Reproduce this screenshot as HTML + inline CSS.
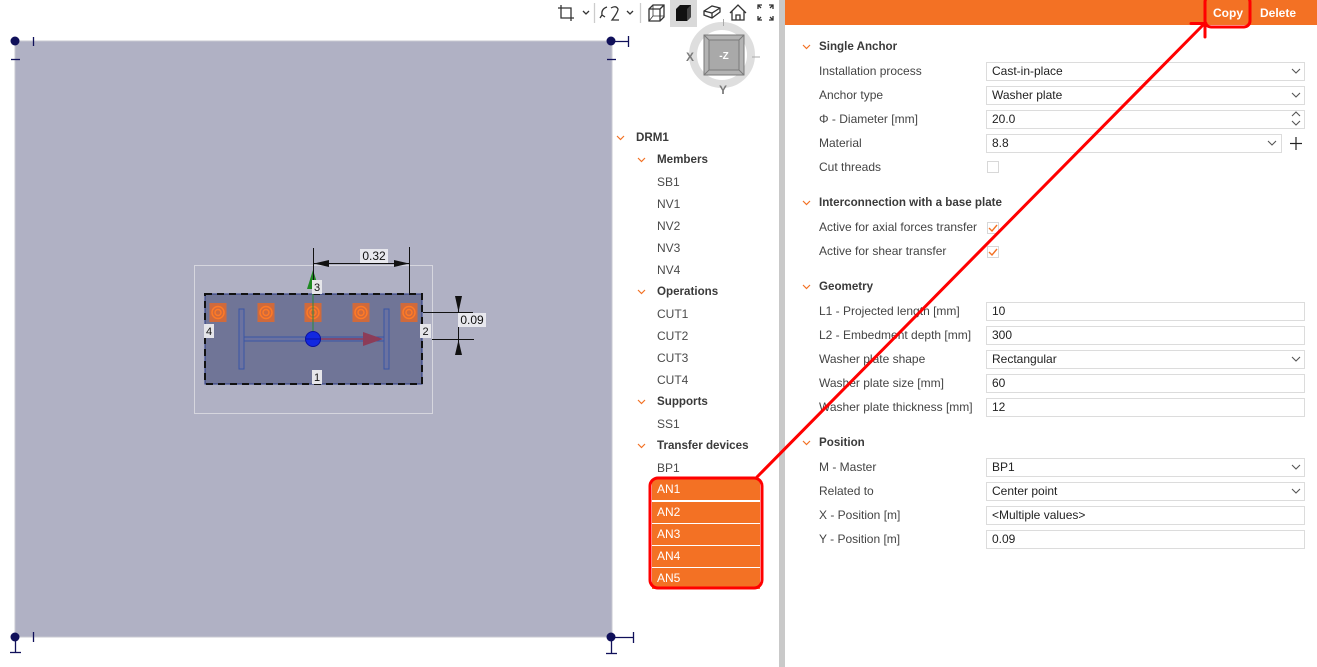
<!DOCTYPE html>
<html><head><meta charset="utf-8">
<style>
body{margin:0;width:1317px;height:667px;overflow:hidden;background:#fff;font-family:"Liberation Sans",sans-serif;position:relative}
.t{position:absolute;font-size:12px;color:#4a4a4a;line-height:22px;white-space:nowrap}
.b{font-weight:bold;color:#3a3a3a;font-size:11.6px}
.lbl{position:absolute;left:819px;font-size:12px;color:#444;line-height:19px;white-space:nowrap}
.hd{position:absolute;left:819px;font-size:11.6px;font-weight:bold;color:#3a3a3a;line-height:18px;white-space:nowrap}
.in{position:absolute;left:986px;width:319px;height:19px;box-sizing:border-box;border:1px solid #dcdcdc;font-size:12px;line-height:17px;padding-left:5px;color:#222;white-space:nowrap;background:#fff}
.sel{position:absolute;left:652px;width:108px;height:21px;background:#f37124;color:#fff;font-size:12px;line-height:21px;padding-left:5px;box-sizing:border-box}
.cb{position:absolute;left:987px;width:12px;height:12px;box-sizing:border-box;border:1px solid #d8d8d8;background:#fff}
</style></head>
<body>

<div style="position:absolute;left:779px;top:0;width:6px;height:667px;background:#c9c9c9"></div>
<div style="position:absolute;left:785px;top:0;width:532px;height:25px;background:#f37124"></div>
<div style="position:absolute;left:1213px;top:5px;font-size:12px;font-weight:bold;color:#fff;line-height:16px">Copy</div>
<div style="position:absolute;left:1260px;top:5px;font-size:12px;font-weight:bold;color:#fff;line-height:16px">Delete</div>

<svg width="1317" height="667" style="position:absolute;left:0;top:0">
  <rect x="15" y="41" width="597" height="596" fill="#b0b1c4" stroke="#c9c9d2" stroke-width="1"/>
  <rect x="194.5" y="265.5" width="238" height="148" fill="none" stroke="#d6d6de" stroke-width="1"/>
  <rect x="205" y="294" width="217" height="90" fill="#707597" stroke="#2c3c84" stroke-width="1"/>
  <rect x="205" y="294" width="217" height="90" fill="none" stroke="#111" stroke-width="2" stroke-dasharray="7 5"/>
  <g>
    <rect x="209.5" y="303" width="17" height="19" fill="#cf6a3c"/>
    <circle cx="218" cy="312.5" r="6" fill="none" stroke="#ff7a26" stroke-width="1.5"/><circle cx="218" cy="312.5" r="3" fill="none" stroke="#ff7a26" stroke-width="1.5"/>
    <rect x="257.5" y="303" width="17" height="19" fill="#cf6a3c"/>
    <circle cx="266" cy="312.5" r="6" fill="none" stroke="#ff7a26" stroke-width="1.5"/><circle cx="266" cy="312.5" r="3" fill="none" stroke="#ff7a26" stroke-width="1.5"/>
    <rect x="304.5" y="303" width="17" height="19" fill="#cf6a3c"/>
    <circle cx="313" cy="312.5" r="6" fill="none" stroke="#ff7a26" stroke-width="1.5"/><circle cx="313" cy="312.5" r="3" fill="none" stroke="#ff7a26" stroke-width="1.5"/>
    <rect x="352.5" y="303" width="17" height="19" fill="#cf6a3c"/>
    <circle cx="361" cy="312.5" r="6" fill="none" stroke="#ff7a26" stroke-width="1.5"/><circle cx="361" cy="312.5" r="3" fill="none" stroke="#ff7a26" stroke-width="1.5"/>
    <rect x="400.5" y="303" width="17" height="19" fill="#cf6a3c"/>
    <circle cx="409" cy="312.5" r="6" fill="none" stroke="#ff7a26" stroke-width="1.5"/><circle cx="409" cy="312.5" r="3" fill="none" stroke="#ff7a26" stroke-width="1.5"/>
  </g>
  <rect x="239" y="309" width="5" height="60" fill="#6b72a0" stroke="#3a55a4" stroke-width="1"/>
  <rect x="384" y="309" width="5" height="60" fill="#6b72a0" stroke="#3a55a4" stroke-width="1"/>
  <rect x="244" y="337" width="140" height="4" fill="#6b72a0" stroke="#3a55a4" stroke-width="1"/>
  <line x1="313" y1="339" x2="313" y2="288" stroke="#2a8a3a" stroke-width="1"/>
  <polygon points="313,270 307,289 319,289" fill="#1e8a22"/>
  <line x1="313" y1="339" x2="365" y2="339" stroke="#8a3b5a" stroke-width="1.5"/>
  <polygon points="383,339 363,332 363,346" fill="#8c3c58"/>
  <circle cx="313" cy="339" r="7.5" fill="#1228e0" stroke="#0a10a0"/>
  <line x1="306" y1="339" x2="320" y2="339" stroke="#0a10a0" stroke-width="1"/>
  <line x1="313.5" y1="248" x2="313.5" y2="294" stroke="#111" stroke-width="1"/>
  <line x1="409.5" y1="247" x2="409.5" y2="294" stroke="#111" stroke-width="1"/>
  <line x1="313" y1="263.5" x2="409" y2="263.5" stroke="#111" stroke-width="1"/>
  <polygon points="314,263.5 329,260 329,267" fill="#111"/>
  <polygon points="409,263.5 394,260 394,267" fill="#111"/>
  <rect x="360" y="249" width="28" height="14" fill="#e8e8ee"/>
  <text x="374" y="260" font-size="12" text-anchor="middle" fill="#111" font-family="Liberation Sans, sans-serif">0.32</text>
  <line x1="423" y1="312.5" x2="473" y2="312.5" stroke="#111" stroke-width="1"/>
  <line x1="432" y1="339.5" x2="474" y2="339.5" stroke="#111" stroke-width="1"/>
  <line x1="458.5" y1="297" x2="458.5" y2="354" stroke="#111" stroke-width="1"/>
  <polygon points="458.5,312 455,296 462,296" fill="#111"/>
  <polygon points="458.5,340 455,355 462,355" fill="#111"/>
  <rect x="458" y="313" width="28" height="14" fill="#e8e8ee"/>
  <text x="472" y="324" font-size="12" text-anchor="middle" fill="#111" font-family="Liberation Sans, sans-serif">0.09</text>
  <rect x="312" y="370" width="10" height="14" fill="#e6e6ea"/><text x="317" y="381" font-size="11" text-anchor="middle" fill="#111" font-family="Liberation Sans, sans-serif">1</text>
  <rect x="420" y="324" width="11" height="14" fill="#e6e6ea"/><text x="425.5" y="335" font-size="11" text-anchor="middle" fill="#111" font-family="Liberation Sans, sans-serif">2</text>
  <rect x="312" y="280" width="10" height="14" fill="#e6e6ea"/><text x="317" y="291" font-size="11" text-anchor="middle" fill="#111" font-family="Liberation Sans, sans-serif">3</text>
  <rect x="204" y="324" width="10" height="14" fill="#e6e6ea"/><text x="209" y="335" font-size="11" text-anchor="middle" fill="#111" font-family="Liberation Sans, sans-serif">4</text>

  <g stroke="#10105a" stroke-width="1.3" fill="none">
    <line x1="33.5" y1="37" x2="33.5" y2="46"/>
    <line x1="11" y1="59.5" x2="20" y2="59.5"/>
    <line x1="611" y1="41.5" x2="628" y2="41.5"/><line x1="628.5" y1="36" x2="628.5" y2="47"/>
    <line x1="607" y1="59.5" x2="616" y2="59.5"/>
    <line x1="15.5" y1="637" x2="15.5" y2="652"/><line x1="10" y1="652.5" x2="21" y2="652.5"/>
    <line x1="33.5" y1="632" x2="33.5" y2="642"/>
    <line x1="611" y1="637.5" x2="633" y2="637.5"/><line x1="633.5" y1="632" x2="633.5" y2="643"/>
    <line x1="611.5" y1="637" x2="611.5" y2="653"/><line x1="606" y1="653.5" x2="617" y2="653.5"/>
  </g>
  <g fill="#10105a">
    <circle cx="15" cy="41" r="4.5"/><circle cx="611" cy="41" r="4.5"/>
    <circle cx="15" cy="637" r="4.5"/><circle cx="611" cy="637" r="4.5"/>
  </g>

  <g stroke="#333" stroke-width="1.3" fill="none">
    <path d="M561 5 V18 H574 M558 8 H571 V21"/>
    <path d="M583 11 L586 14 L589 11"/>
    <line x1="594.5" y1="3" x2="594.5" y2="23" stroke="#ccc"/>
    <path d="M607 7 Q601 9 602 15 L600 18 M602 15 L605 17 M611 8 Q616 5 618 9 Q618 12 612 20 H619"/>
    <path d="M627 11 L630 14 L633 11"/>
    <line x1="640.5" y1="3" x2="640.5" y2="23" stroke="#ccc"/>
    <path d="M649 9 L653 5 H664 V17 L660 21 H649 Z M649 9 H660 V21 M660 9 L664 5"/>
    <path d="M653 5 V16 L649 21 M653 16 H664" stroke-width="0.8"/>
  </g>
  <rect x="670" y="0" width="27" height="27" fill="#d9d9d9"/>
  <path d="M676 9 L680 5 H691 V17 L687 21 H676 Z" fill="#111"/>
  <path d="M687 9 L691 5 V17 L687 21 Z" fill="#444"/>
  <g stroke="#333" stroke-width="1.3" fill="none">
    <path d="M704 11 L712 6 L720 8 V12 L712 18 L704 15 Z M704 11 L712 13 L720 8 M712 13 V18"/>
    <path d="M730 13 L738 5 L746 13 M732 11 V20 H744 V11 M736 20 V15 H740 V20"/>
    <path d="M758 9 V5 H762 M758 5 L761 8 M773 9 V5 H769 M773 5 L770 8 M758 16 V20 H762 M758 20 L761 17 M773 16 V20 H769 M773 20 L770 17"/>
  </g>

  <circle cx="722" cy="55" r="29" fill="none" stroke="#dedede" stroke-width="8"/>
  <rect x="704" y="35" width="40" height="40" fill="#b3b3b3" stroke="#7a7a7a"/>
  <rect x="709" y="40" width="30" height="30" fill="#a9a9a9" stroke="#7a7a7a"/>
  <g stroke="#7a7a7a" stroke-width="1"><line x1="704" y1="35" x2="709" y2="40"/><line x1="744" y1="35" x2="739" y2="40"/><line x1="704" y1="75" x2="709" y2="70"/><line x1="744" y1="75" x2="739" y2="70"/></g>
  <text x="724" y="59" font-size="10" font-weight="bold" text-anchor="middle" fill="#fff" font-family="Liberation Sans, sans-serif">-Z</text>
  <text x="690" y="61" font-size="12" font-weight="bold" text-anchor="middle" fill="#7a7a7a" font-family="Liberation Sans, sans-serif">X</text>
  <text x="723" y="94" font-size="12" font-weight="bold" text-anchor="middle" fill="#7a7a7a" font-family="Liberation Sans, sans-serif">Y</text>
  <line x1="752" y1="57" x2="760" y2="57" stroke="#aaa"/>
  <line x1="723.5" y1="19" x2="723.5" y2="26" stroke="#aaa"/>

  <g stroke="#f37124" stroke-width="1.2" fill="none">
    <path d="M617 136 L620.5 139.5 L624 136"/>
    <path d="M638 158 L641.5 161.5 L645 158"/>
    <path d="M638 290 L641.5 293.5 L645 290"/>
    <path d="M638 400 L641.5 403.5 L645 400"/>
    <path d="M638 444 L641.5 447.5 L645 444"/>
    <path d="M803 45 L806.5 48.5 L810 45"/>
    <path d="M803 201 L806.5 204.5 L810 201"/>
    <path d="M803 285 L806.5 288.5 L810 285"/>
    <path d="M803 441 L806.5 444.5 L810 441"/>
  </g>
</svg>

<div class="t b" style="left:636px;top:127px">DRM1</div>
<div class="t b" style="left:657px;top:149px">Members</div>
<div class="t" style="left:657px;top:171px">SB1</div>
<div class="t" style="left:657px;top:193px">NV1</div>
<div class="t" style="left:657px;top:215px">NV2</div>
<div class="t" style="left:657px;top:237px">NV3</div>
<div class="t" style="left:657px;top:259px">NV4</div>
<div class="t b" style="left:657px;top:281px">Operations</div>
<div class="t" style="left:657px;top:303px">CUT1</div>
<div class="t" style="left:657px;top:325px">CUT2</div>
<div class="t" style="left:657px;top:347px">CUT3</div>
<div class="t" style="left:657px;top:369px">CUT4</div>
<div class="t b" style="left:657px;top:391px">Supports</div>
<div class="t" style="left:657px;top:413px">SS1</div>
<div class="t b" style="left:657px;top:435px">Transfer devices</div>
<div class="t" style="left:657px;top:457px">BP1</div>
<div class="sel" style="top:479px">AN1</div>
<div class="sel" style="top:502px">AN2</div>
<div class="sel" style="top:524px">AN3</div>
<div class="sel" style="top:546px">AN4</div>
<div class="sel" style="top:568px">AN5</div>

<div class="hd" style="top:38px">Single Anchor</div>
<div class="lbl" style="top:62px">Installation process</div><div class="in" style="top:62px">Cast-in-place</div>
<div class="lbl" style="top:86px">Anchor type</div><div class="in" style="top:86px">Washer plate</div>
<div class="lbl" style="top:110px">Φ - Diameter [mm]</div><div class="in" style="top:110px">20.0</div>
<div class="lbl" style="top:134px">Material</div><div class="in" style="top:134px;width:296px">8.8</div>
<div class="lbl" style="top:158px">Cut threads</div><div class="cb" style="top:161px"></div>

<div class="hd" style="top:194px">Interconnection with a base plate</div>
<div class="lbl" style="top:218px">Active for axial forces transfer</div><div class="cb" style="top:222px"></div>
<div class="lbl" style="top:242px">Active for shear transfer</div><div class="cb" style="top:246px"></div>

<div class="hd" style="top:278px">Geometry</div>
<div class="lbl" style="top:302px">L1 - Projected length [mm]</div><div class="in" style="top:302px">10</div>
<div class="lbl" style="top:326px">L2 - Embedment depth [mm]</div><div class="in" style="top:326px">300</div>
<div class="lbl" style="top:350px">Washer plate shape</div><div class="in" style="top:350px">Rectangular</div>
<div class="lbl" style="top:374px">Washer plate size [mm]</div><div class="in" style="top:374px">60</div>
<div class="lbl" style="top:398px">Washer plate thickness [mm]</div><div class="in" style="top:398px">12</div>

<div class="hd" style="top:434px">Position</div>
<div class="lbl" style="top:458px">M - Master</div><div class="in" style="top:458px">BP1</div>
<div class="lbl" style="top:482px">Related to</div><div class="in" style="top:482px">Center point</div>
<div class="lbl" style="top:506px">X - Position [m]</div><div class="in" style="top:506px">&lt;Multiple values&gt;</div>
<div class="lbl" style="top:530px">Y - Position [m]</div><div class="in" style="top:530px">0.09</div>

<svg width="1317" height="667" style="position:absolute;left:0;top:0">
  <g stroke="#555" stroke-width="1.1" fill="none">
    <path d="M1292 69 L1296 73 L1300 69"/>
    <path d="M1292 93 L1296 97 L1300 93"/>
    <path d="M1292 116 L1296 112 L1300 116 M1292 121 L1296 125 L1300 121"/>
    <path d="M1268 141 L1272 145 L1276 141"/>
    <path d="M1292 357 L1296 361 L1300 357"/>
    <path d="M1292 465 L1296 469 L1300 465"/>
    <path d="M1292 489 L1296 493 L1300 489"/>
  </g>
  <g stroke="#222" stroke-width="1.2"><line x1="1290" y1="143.5" x2="1302" y2="143.5"/><line x1="1296" y1="137" x2="1296" y2="150"/></g>
  <g stroke="#f37124" stroke-width="1.4" fill="none">
    <path d="M989 228 L992 231 L997 225"/>
    <path d="M989 252 L992 255 L997 249"/>
  </g>
  <g stroke="#ff0000" stroke-width="3" fill="none" stroke-linecap="round" stroke-linejoin="round">
    <rect x="650" y="478" width="112" height="110" rx="8"/>
    <line x1="757" y1="477" x2="1204" y2="24"/>
    <line x1="1191" y1="23.5" x2="1206" y2="23.5"/>
    <line x1="1205" y1="23" x2="1205" y2="37"/>
    <rect x="1205" y="-4" width="45" height="31" rx="6"/>
  </g>
</svg>
</body></html>
